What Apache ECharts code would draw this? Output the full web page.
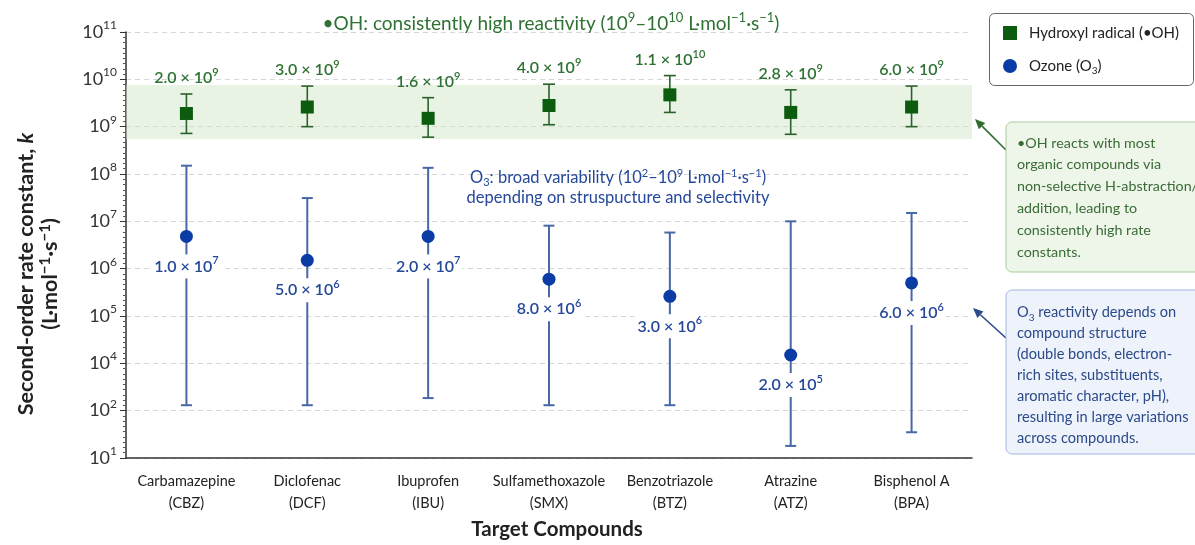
<!DOCTYPE html>
<html>
<head>
<meta charset="utf-8">
<script src="https://cdn.jsdelivr.net/npm/echarts@6/dist/echarts.min.js"></script>
<style>
  html, body { margin: 0; padding: 0; background: #fff; }
  #chart { width: 1195px; height: 545px; }
</style>
</head>
<body>
<div id="chart"></div>
<script>
// compounds on the x axis
var categories = ['Carbamazepine\n(CBZ)', 'Diclofenac\n(DCF)', 'Ibuprofen\n(IBU)', 'Sulfamethoxazole\n(SMX)',
  'Benzotriazole\n(BTZ)', 'Atrazine\n(ATZ)', 'Bisphenol A\n(BPA)'];

// y axis ticks (as printed: 10^3 is skipped on the original axis)
var yTickExps = [1, 2, 4, 5, 6, 7, 8, 9, 10, 11];
var yTickLabels = ['10^{1}', '10^{2}', '10^{4}', '10^{5}', '10^{6}', '10^{7}', '10^{8}', '10^{9}', '10^{10}', '10^{11}'];

// hydroxyl radical (•OH), values read against the printed axis
var ohMid = [1.9e9, 2.6e9, 1.5e9, 2.8e9, 4.7e9, 2.0e9, 2.6e9];
var ohLow = [7.2e8, 1.0e9, 6.0e8, 1.1e9, 2.0e9, 6.9e8, 1.0e9];
var ohHigh = [4.9e9, 7.2e9, 4.1e9, 7.9e9, 1.2e10, 6.0e9, 7.2e9];
var ohLabels = ['2.0 × 10^{9}', '3.0 × 10^{9}', '1.6 × 10^{9}', '4.0 × 10^{9}', '1.1 × 10^{10}', '2.8 × 10^{9}', '6.0 × 10^{9}'];

// ozone (O3)
var o3Mid = [4.8e6, 1.5e6, 4.8e6, 6.0e5, 2.6e5, 1.5e4, 5.0e5];
var o3Low = [1.7e2, 1.7e2, 3.4e2, 1.7e2, 1.7e2, 18, 35];
var o3High = [1.5e8, 3.1e7, 1.35e8, 8.1e6, 5.8e6, 1.0e7, 1.5e7];
var o3Labels = ['1.0 × 10^{7}', '5.0 × 10^{6}', '2.0 × 10^{7}', '8.0 × 10^{6}', '3.0 × 10^{6}', '2.0 × 10^{5}', '6.0 × 10^{6}'];

// shaded •OH band
var ohBand = [5.5e8, 7.6e9];

var GREEN = '#0c5c10', GREEN_LINE = '#2a612a', GREEN_TEXT = '#2f7233';
var BLUE = '#0b3ca5', BLUE_LINE = '#4767a6', BLUE_TEXT = '#25489a';
var FONT = 'Lato, "Open Sans", "DejaVu Sans", sans-serif';

// ^{..} -> superscript token, _{..} -> subscript token
function rt(s) {
  return s.replace(/\^\{([^}]*)\}/g, '{sup|$1}').replace(/_\{([^}]*)\}/g, '{sub|$1}');
}
function richFor(size, color, weight) {
  var small = Math.round(size * 0.68);
  return {
    sup: { fontSize: small, lineHeight: small, verticalAlign: 'top', color: color, fill: color, fontWeight: weight || 'normal', fontFamily: FONT },
    sub: { fontSize: small, lineHeight: small, verticalAlign: 'bottom', color: color, fill: color, fontWeight: weight || 'normal', fontFamily: FONT },
    i: { fontSize: size, fontStyle: 'italic', color: color, fontWeight: weight || 'normal', fontFamily: FONT }
  };
}

// value -> position on the printed axis (linear in exponent between printed ticks)
function toAxis(v) {
  var e = Math.log10(v), n = yTickExps.length;
  for (var i = 0; i < n - 1; i++) {
    if (e <= yTickExps[i + 1] || i == n - 2) {
      return i + (e - yTickExps[i]) / (yTickExps[i + 1] - yTickExps[i]);
    }
  }
}

function errData(low, high) {
  return low.map(function(l, i) { return [i, toAxis(l), toAxis(high[i])]; });
}

function errRender(color, capW, lw, labels) {
  return function(params, api) {
    var i = api.value(0);
    var lo = api.coord([i, api.value(1)]);
    var hi = api.coord([i, api.value(2)]);
    var st = { stroke: color, lineWidth: lw };
    var children = [
      { type: 'line', shape: { x1: lo[0], y1: lo[1], x2: hi[0], y2: hi[1] }, style: st },
      { type: 'line', shape: { x1: lo[0] - capW / 2, y1: lo[1], x2: lo[0] + capW / 2, y2: lo[1] }, style: st },
      { type: 'line', shape: { x1: hi[0] - capW / 2, y1: hi[1], x2: hi[0] + capW / 2, y2: hi[1] }, style: st }
    ];
    if (labels) {
      children.push({
        type: 'text',
        style: {
          text: rt(labels[params.dataIndex]), x: hi[0], y: hi[1] - 16,
          align: 'center', verticalAlign: 'middle',
          fill: GREEN_TEXT, fontSize: 16, fontWeight: 600, fontFamily: FONT, lineHeight: 22,
          rich: richFor(16, GREEN_TEXT, 600)
        }
      });
    }
    return { type: 'group', children: children };
  };
}

function arrow(x1, y1, x2, y2, color) {
  var a = Math.atan2(y2 - y1, x2 - x1), L = 10, W = 4.5;
  var bx = x2 - L * Math.cos(a), by = y2 - L * Math.sin(a);
  return {
    type: 'group', z: 100,
    children: [
      { type: 'line', shape: { x1: x1, y1: y1, x2: bx, y2: by }, style: { stroke: color, lineWidth: 1.6 } },
      { type: 'polygon', shape: { points: [[x2, y2],
          [bx + W * Math.sin(a), by - W * Math.cos(a)],
          [bx - W * Math.sin(a), by + W * Math.cos(a)]] }, style: { fill: color } }
    ]
  };
}

var chart = echarts.init(document.getElementById('chart'));

var option = {
  backgroundColor: '#fff',
  animation: false,
  textStyle: { fontFamily: FONT },
  grid: { left: 126, right: 223, top: 32, bottom: 81 },
  legend: {
    left: 1003, top: 23,
    orient: 'vertical',
    z: 20,
    data: ['Hydroxyl radical (•OH)', 'Ozone (O₃)'],
    formatter: function(name) { return name == 'Ozone (O₃)' ? rt('Ozone (O_{3})') : name; },
    padding: 0,
    itemGap: 13, itemWidth: 14, itemHeight: 14,
    textStyle: { fontSize: 15, color: '#222', fontFamily: FONT, padding: [0, 0, 0, 7], lineHeight: 20,
      rich: richFor(15, '#222') }
  },
  xAxis: {
    type: 'category',
    data: categories,
    axisLine: { lineStyle: { color: '#333', width: 1.5 } },
    axisTick: { show: false },
    axisLabel: { interval: 0, fontSize: 14.5, lineHeight: 22, color: '#222', margin: 12 },
    name: 'Target Compounds',
    nameLocation: 'middle',
    nameGap: 61,
    nameTextStyle: { fontSize: 20.5, fontWeight: 'bold', color: '#222', verticalAlign: 'top', padding: [0, 0, 0, 16] }
  },
  yAxis: {
    type: 'value',
    min: 0, max: 9, interval: 1,
    axisLine: { show: true, lineStyle: { color: '#333', width: 1.5 } },
    axisTick: { show: true, length: 6, lineStyle: { color: '#333' } },
    minorTick: { show: true, splitNumber: 9, length: 3, lineStyle: { color: '#555' } },
    axisLabel: {
      fontSize: 18, color: '#333', margin: 9, lineHeight: 26,
      rich: richFor(18, '#333'),
      formatter: function(v) { return rt(yTickLabels[Math.round(v)]); }
    },
    splitLine: { show: true, lineStyle: { color: '#d6d6d6', type: [5, 4] } },
    name: rt('Second-order rate constant, {i|k}\n(L·mol^{−1}·s^{−1})'),
    nameLocation: 'middle',
    nameGap: 64,
    nameRotate: 90,
    nameTextStyle: {
      fontSize: 21.5, fontWeight: 'bold', color: '#222', lineHeight: 24,
      padding: [0, 58, 0, 0],
      rich: richFor(21.5, '#222', 'bold')
    }
  },
  graphic: [
    { type: 'rect', z: 1, shape: { x: 989.5, y: 13.5, width: 204, height: 72, r: 5 },
      style: { fill: null, stroke: '#666', lineWidth: 1 } },
    { type: 'text', z: 100, style: { text: rt('•OH: consistently high reactivity (10^{9}–10^{10} L·mol^{−1}·s^{−1})'),
        x: 551, y: 24, align: 'center', verticalAlign: 'middle', fill: GREEN_TEXT,
        fontSize: 19, fontFamily: FONT, lineHeight: 26, rich: richFor(19, GREEN_TEXT) } },
    { type: 'text', z: 100, style: { text: rt('O_{3}: broad variability (10^{2}–10^{9} L·mol^{−1}·s^{−1})\ndepending on struspucture and selectivity'),
        x: 618, y: 168, align: 'center', lineHeight: 20, fill: BLUE_TEXT,
        fontSize: 16.5, fontFamily: FONT, rich: richFor(16.5, BLUE_TEXT) } },
    { type: 'rect', z: 100, shape: { x: 1006, y: 122, width: 200, height: 150, r: 6 },
      style: { fill: '#eef6ea', stroke: '#a9cc9c', lineWidth: 1 } },
    { type: 'text', z: 101, style: { text: '•OH reacts with most\norganic compounds via\nnon-selective H-abstraction/\naddition, leading to\nconsistently high rate\nconstants.',
        x: 1017, y: 132, lineHeight: 21.8, fill: '#3a6b36', fontSize: 14.3, fontFamily: FONT } },
    { type: 'rect', z: 100, shape: { x: 1006, y: 290, width: 200, height: 164, r: 6 },
      style: { fill: '#edf2fb', stroke: '#a4b8de', lineWidth: 1 } },
    { type: 'text', z: 101, style: { text: rt('O_{3} reactivity depends on\ncompound structure\n(double bonds, electron-\nrich sites, substituents,\naromatic character, pH),\nresulting in large variations\nacross compounds.'),
        x: 1017, y: 301.5, lineHeight: 21, fill: '#2c4a8a', fontSize: 14.6, fontFamily: FONT,
        rich: richFor(14.6, '#2c4a8a') } },
    arrow(1006, 150, 975, 119, '#2e6b2e'),
    arrow(1006, 338, 973, 308, '#2d4a8a')
  ],
  series: [
    {
      type: 'custom',
      name: 'ohErr',
      renderItem: errRender(GREEN_LINE, 12, 1.6, ohLabels),
      data: errData(ohLow, ohHigh),
      z: 3,
      markArea: {
        silent: true,
        itemStyle: { color: 'rgba(205,228,195,0.45)' },
        data: [[{ yAxis: toAxis(ohBand[0]) }, { yAxis: toAxis(ohBand[1]) }]]
      }
    },
    {
      type: 'custom',
      name: 'o3Err',
      renderItem: errRender(BLUE_LINE, 11, 2, null),
      data: errData(o3Low, o3High),
      z: 3
    },
    {
      type: 'scatter',
      name: 'Hydroxyl radical (•OH)',
      symbol: 'rect',
      symbolSize: 13,
      itemStyle: { color: GREEN, opacity: 1 },
      data: ohMid.map(toAxis),
      z: 5
    },
    {
      type: 'scatter',
      name: 'Ozone (O₃)',
      symbol: 'circle',
      symbolSize: 13,
      itemStyle: { color: BLUE, opacity: 1 },
      data: o3Mid.map(toAxis),
      z: 5,
      label: {
        show: true,
        position: 'inside',
        offset: [0, 30],
        formatter: function(p) { return rt(o3Labels[p.dataIndex]); },
        color: BLUE_TEXT, fontSize: 16, fontWeight: 600, lineHeight: 22,
        rich: richFor(16, BLUE_TEXT, 600),
        backgroundColor: '#fff', padding: [1, 2]
      }
    }
  ]
};

chart.setOption(option);
</script>
</body>
</html>
